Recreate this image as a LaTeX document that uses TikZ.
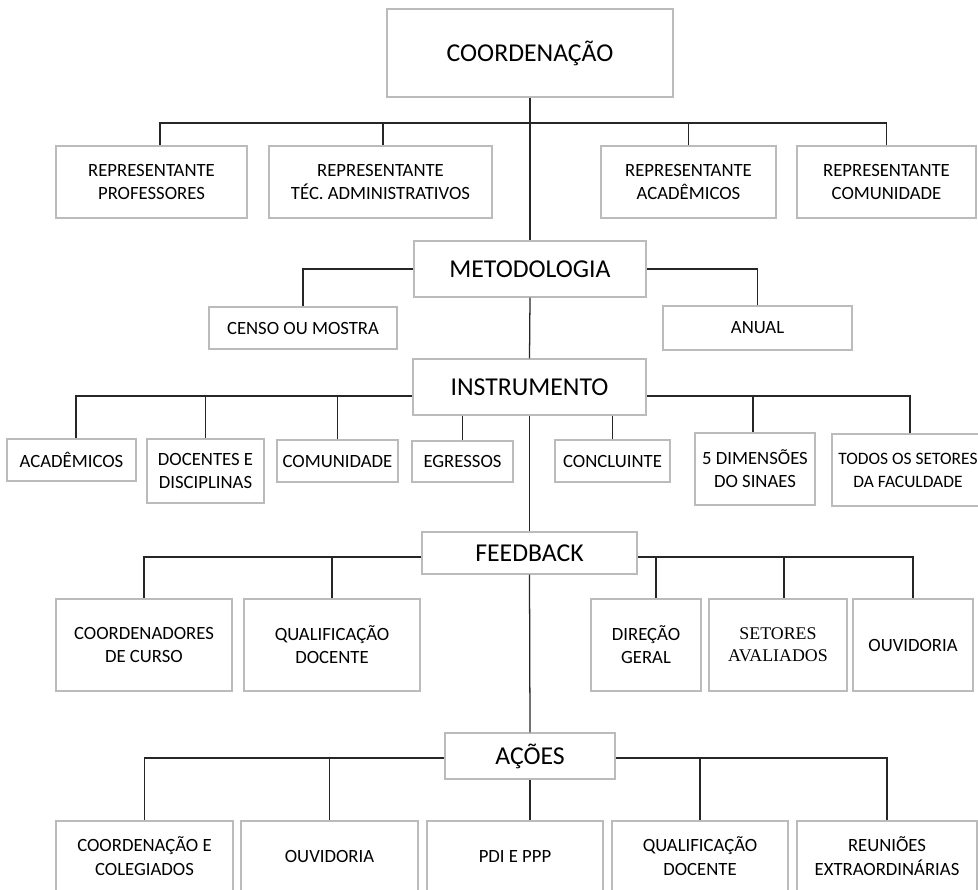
\documentclass[tikz,border=0pt]{standalone}
\usepackage{fontspec}
\setmainfont{Carlito}
\newfontfamily\serifa{Liberation Serif}
\usepackage{xcolor}
\usepackage{tikz}

\definecolor{cinza}{HTML}{BBBBBB}
\tikzset{
caixa/.style={draw=cinza, line width=0.9pt, fill=white, align=center, inner sep=0pt, font=\fontsize{13.3}{16.5}\selectfont},
titulo/.style={caixa, font=\fontsize{18.3}{22}\selectfont},
liga/.style={line width=0.9pt, draw=black!85},
wh/.style 2 args={minimum width=#1*0.025cm, minimum height=#2*0.025cm}
}

\begin{document}
\begin{tikzpicture}[x=0.025cm, y=-0.025cm]
\useasboundingbox (0,0) rectangle (978,889);
\clip (0,0) rectangle (978,889);

\node[titulo, wh={286}{88}] (coord) at (530,53) {COORDENAÇÃO};
\node[caixa, wh={191}{72}] (rprof) at (151.5,182) {REPRESENTANTE\\PROFESSORES};
\node[caixa, wh={223}{72}] (rtec) at (380.5,182) {REPRESENTANTE\\TÉC. ADMINISTRATIVOS};
\node[caixa, wh={175}{72}] (racad) at (688.5,182) {REPRESENTANTE\\ACADÊMICOS};
\node[caixa, wh={179}{72}] (rcom) at (886.5,182) {REPRESENTANTE\\COMUNIDADE};

\node[titulo, wh={232}{56}] (metod) at (530,269) {METODOLOGIA};
\node[caixa, wh={188}{42}] (censo) at (303,328) {CENSO OU MOSTRA};
\node[caixa, wh={189}{44}] (anual) at (757.5,328) {ANUAL};

\node[titulo, wh={233}{56}] (instr) at (529.5,387) {INSTRUMENTO};
\node[caixa, wh={129}{42}] (iacad) at (71.5,460) {ACADÊMICOS};
\node[caixa, wh={117}{64}] (idoc) at (205.5,471) {DOCENTES E\\DISCIPLINAS};
\node[caixa, wh={121}{42}] (icom) at (337.5,461) {COMUNIDADE};
\node[caixa, wh={101}{41}] (iegr) at (462.5,461.5) {EGRESSOS};
\node[caixa, wh={115}{42}] (iconc) at (612.5,461) {CONCLUINTE};
\node[caixa, wh={120}{72}] (idim) at (755,469) {5 DIMENSÕES\\DO SINAES};
\node[caixa, wh={152}{72}, font=\fontsize{12.4}{16.5}\selectfont] (itodos) at (908,470) {TODOS OS SETORES\\DA FACULDADE};

\node[titulo, wh={215}{42}] (feed) at (529.5,553) {FEEDBACK};
\node[caixa, wh={176}{92}] (fcoord) at (144,645) {COORDENADORES\\DE CURSO};
\node[caixa, wh={176}{92}] (fqual) at (332,645) {QUALIFICAÇÃO\\DOCENTE};
\node[caixa, wh={110}{92}] (fdir) at (646,645) {DIREÇÃO\\GERAL};
\node[caixa, wh={138}{92}, font=\serifa\fontsize{12.7}{15.8}\selectfont] (fset) at (778,645) {SETORES\\AVALIADOS};
\node[caixa, wh={120}{92}] (fouv) at (913,645) {OUVIDORIA};

\node[titulo, wh={170}{46}] (acoes) at (530,756) {AÇÕES};
\node[caixa, wh={177}{70}] (acoord) at (144.5,856) {COORDENAÇÃO E\\COLEGIADOS};
\node[caixa, wh={177}{70}] (aouv) at (329.5,856) {OUVIDORIA};
\node[caixa, wh={176}{70}] (apdi) at (515,856) {PDI E PPP};
\node[caixa, wh={176}{70}] (aqual) at (700,856) {QUALIFICAÇÃO\\DOCENTE};
\node[caixa, wh={180}{70}] (areun) at (887,856) {REUNIÕES\\EXTRAORDINÁRIAS};

\coordinate (bar1) at (530,123);
\coordinate (bar3) at (530,396);
\coordinate (bar4) at (530,557);
\coordinate (bar5) at (530,758);

\draw[liga] (coord.south) -- (metod.north);
\draw[liga] ([xshift=0.21cm]rprof.north) |- (bar1);
\draw[liga] ([xshift=0.06cm]rtec.north) |- (bar1);
\draw[liga] (racad.north) |- (bar1);
\draw[liga] (rcom.north) |- (bar1);

\draw[liga] (metod.south) -- (instr.north);
\draw[liga] (censo.north) |- (metod.west);
\draw[liga] (anual.north) |- (metod.east);

\draw[liga] (instr.south) -- (feed.north);
\draw[liga] ([xshift=0.11cm]iacad.north) |- (instr.west |- bar3);
\draw[liga] (idoc.north) |- (instr.west |- bar3);
\draw[liga] (icom.north) |- (instr.west |- bar3);
\draw[liga] (iegr.north) -- (iegr.north |- instr.south);
\draw[liga] (iconc.north) -- (iconc.north |- instr.south);
\draw[liga] ([xshift=-0.05cm]idim.north) |- (instr.east |- bar3);
\draw[liga] ([xshift=0.05cm]itodos.north) |- (instr.east |- bar3);

\draw[liga] (feed.south) -- (acoes.north);
\draw[liga] (fcoord.north) |- (feed.west |- bar4);
\draw[liga] (fqual.north) |- (feed.west |- bar4);
\draw[liga] ([xshift=0.25cm]fdir.north) |- (feed.east |- bar4);
\draw[liga] ([xshift=0.15cm]fset.north) |- (feed.east |- bar4);
\draw[liga] (fouv.north) |- (feed.east |- bar4);

\draw[liga] (acoes.south) -- (acoes.south |- apdi.north);
\draw[liga] (acoord.north) |- (acoes.west |- bar5);
\draw[liga] (aouv.north) |- (acoes.west |- bar5);
\draw[liga] (aqual.north) |- (acoes.east |- bar5);
\draw[liga] (areun.north) |- (acoes.east |- bar5);
\end{tikzpicture}
\end{document}
